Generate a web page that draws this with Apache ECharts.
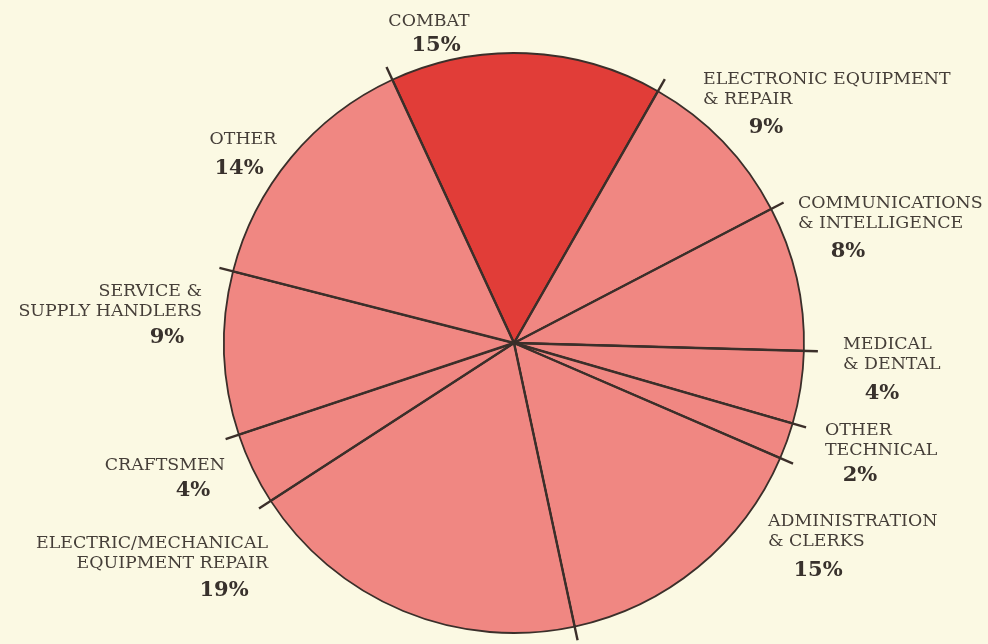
<!DOCTYPE html>
<html>
<head>
<meta charset="utf-8">
<script src="https://cdn.jsdelivr.net/npm/echarts@6/dist/echarts.min.js"></script>
<style>
html,body{margin:0;padding:0;background:#fbf9e3;}
#chart{width:988px;height:644px;}
</style>
</head>
<body>
<div id="chart"></div>
<script>
// ---- data ----
const categories = [
  'COMBAT',
  'ELECTRONIC EQUIPMENT\n& REPAIR',
  'COMMUNICATIONS\n& INTELLIGENCE',
  'MEDICAL\n& DENTAL',
  'OTHER\nTECHNICAL',
  'ADMINISTRATION\n& CLERKS',
  'ELECTRIC/MECHANICAL\nEQUIPMENT REPAIR',
  'CRAFTSMEN',
  'SERVICE &\nSUPPLY HANDLERS',
  'OTHER'
];
const values = [15, 9, 8, 4, 2, 15, 19, 4, 9, 14];
const highlighted = [true, false, false, false, false, false, false, false, false, false];

// ---- layout / style (not data) ----
const CENTER = [514, 343];
const R = 290;
const R_LINE = 304;
const START = 114.8;
const namePos = [
  {x: 429, y: 21.5, align: 'center'},
  {x: 703, y: 79, align: 'left'},
  {x: 798, y: 203.5, align: 'left'},
  {x: 843, y: 344, align: 'left'},
  {x: 825, y: 430.5, align: 'left'},
  {x: 768, y: 521.5, align: 'left'},
  {x: 268, y: 543.5, align: 'right'},
  {x: 225, y: 465, align: 'right'},
  {x: 202, y: 291, align: 'right'},
  {x: 243, y: 139, align: 'center'}
];
const pctPos = [
  {x: 436, y: 46}, {x: 766, y: 128}, {x: 848, y: 252}, {x: 882, y: 393.5},
  {x: 860, y: 476}, {x: 818, y: 571}, {x: 224, y: 591}, {x: 193, y: 491},
  {x: 167, y: 338}, {x: 239, y: 169}
];
const COL_HI = '#e13d38', COL_LO = '#f08782', INK = '#38312c';
const LINE_H = 20;

const total = values.reduce((a, b) => a + b, 0);
const bounds = [];
let acc = 0;
values.forEach(v => { bounds.push([R_LINE, acc]); acc += v; });

const pieData = categories.map((c, i) => ({
  name: c, value: values[i],
  itemStyle: {color: highlighted[i] ? COL_HI : COL_LO}
}));

const chart = echarts.init(document.getElementById('chart'), null, {renderer: 'canvas'});
chart.setOption({
  backgroundColor: '#fbf9e3',
  animation: false,
  polar: {center: CENTER, radius: R_LINE},
  angleAxis: {type: 'value', min: 0, max: total, startAngle: START, clockwise: true, show: false},
  radiusAxis: {type: 'value', min: 0, max: R_LINE, show: false},
  series: [
    {
      type: 'pie',
      center: CENTER,
      radius: R,
      startAngle: START,
      clockwise: true,
      avoidLabelOverlap: false,
      silent: true,
      data: pieData,
      itemStyle: {borderColor: '#3b2f2a', borderWidth: 1.8},
      label: {
        show: true, position: 'outside', formatter: '{b}',
        fontFamily: 'DejaVu Serif', fontSize: 17.4, color: '#453e38',
        lineHeight: LINE_H
      },
      labelLine: {show: false},
      labelLayout: function (p) {
        const q = namePos[p.dataIndex];
        return {x: q.x, y: q.y - LINE_H / 2, align: q.align, verticalAlign: 'top', hideOverlap: false};
      }
    },
    {
      type: 'pie',
      center: CENTER,
      radius: R,
      startAngle: START,
      clockwise: true,
      avoidLabelOverlap: false,
      silent: true,
      z: 1,
      data: categories.map((c, i) => ({name: c + ' pct', value: values[i]})),
      itemStyle: {color: 'rgba(0,0,0,0)', borderWidth: 0},
      label: {
        show: true, position: 'outside', formatter: '{c}%',
        fontFamily: 'DejaVu Serif', fontWeight: 'bold', fontSize: 21, color: INK
      },
      labelLine: {show: false},
      labelLayout: function (p) {
        const q = pctPos[p.dataIndex];
        return {x: q.x, y: q.y, align: 'center', verticalAlign: 'middle', hideOverlap: false};
      }
    },
    {
      type: 'custom',
      coordinateSystem: 'polar',
      silent: true,
      z: 5,
      data: bounds,
      renderItem: function (params, api) {
        const a = api.value(1);
        const p0 = api.coord([0, a]);
        const p1 = api.coord([api.value(0), a]);
        return {
          type: 'line',
          shape: {x1: p0[0], y1: p0[1], x2: p1[0], y2: p1[1]},
          style: {stroke: '#3b2f2a', lineWidth: 2.4}
        };
      }
    }
  ]
});
</script>
</body>
</html>
